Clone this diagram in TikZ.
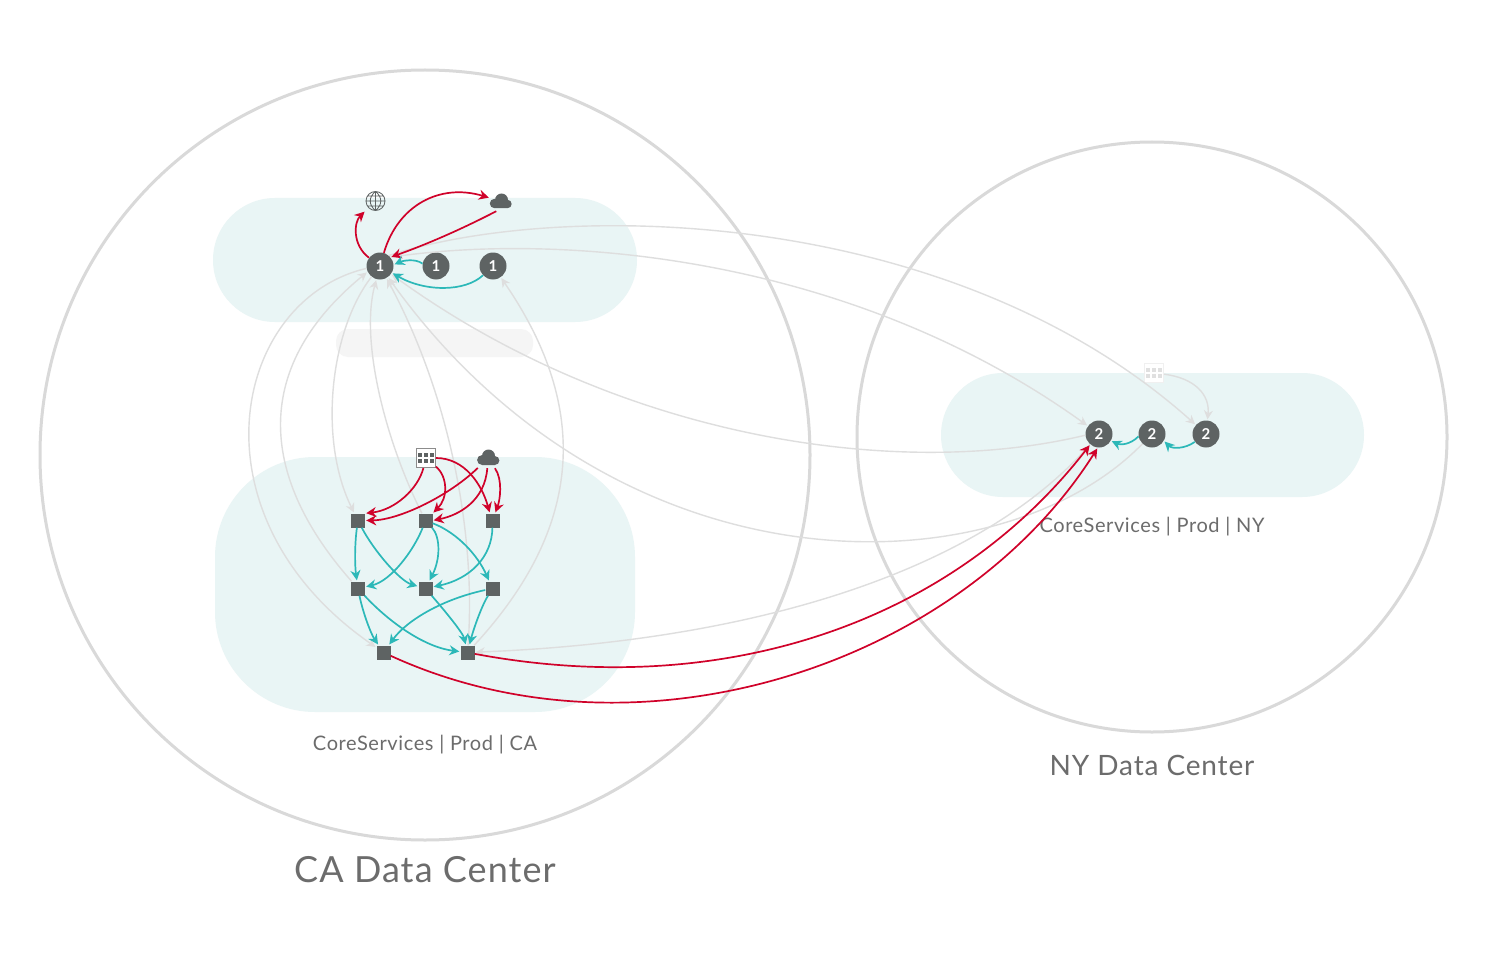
\documentclass[tikz,border=0pt]{standalone}
\usepackage{fontspec}
\setmainfont{Lato}[LetterSpace=3]
\usetikzlibrary{arrows.meta}
\definecolor{pillc}{RGB}{233,245,245}
\definecolor{ringc}{RGB}{217,217,217}
\definecolor{faintc}{RGB}{222,222,222}
\definecolor{nodec}{RGB}{94,99,99}
\definecolor{redc}{RGB}{208,2,42}
\definecolor{tealc}{RGB}{44,184,184}
\definecolor{textc}{RGB}{108,108,108}

\begin{document}
\begin{tikzpicture}[
  x=1pt, y=-1pt,
  ring/.style={draw=ringc, line width=3pt, circle, inner sep=0pt},
  pill/.style={fill=pillc, rounded corners=62pt, inner sep=0pt},
  svc/.style={circle, fill=nodec, text=white, inner sep=0pt, minimum size=27pt,
              font=\bfseries\fontsize{15}{15}\selectfont},
  inst/.style={fill=nodec, inner sep=0pt, minimum size=14pt},
  icon/.style={inner sep=0pt, minimum size=20pt},
  rededge/.style={-{Stealth[length=10pt,width=10pt]}, draw=redc, line width=1.7pt, shorten >=1pt},
  tealedge/.style={-{Stealth[length=10pt,width=10pt]}, draw=tealc, line width=1.7pt, shorten >=1pt},
  greyedge/.style={-{Stealth[length=9pt,width=9pt]}, draw=faintc, line width=1.4pt, shorten >=1pt},
  lbl/.style={text=textc, inner sep=0pt},
]
\useasboundingbox (0,0) rectangle (1488,960);
\fill[white] (0,0) rectangle (1488,960);

% ---------- tiers ----------
\node[pill, minimum width=424pt, minimum height=124pt] (toppill) at (425,260) {};
\node[pill, minimum width=420pt, minimum height=255pt, rounded corners=100pt] (botpill) at (425,584.5) {};
\node[pill, minimum width=423pt, minimum height=124pt] (nypill) at (1152.5,435) {};
\node[pill, fill=black!4, minimum width=197pt, minimum height=28pt, rounded corners=12pt] (greybar) at (434.5,343) {};
\node[lbl, font=\fontsize{20}{20}\selectfont] (botlbl) at (425,745) {CoreServices | Prod | CA};
\node[lbl, font=\fontsize{20}{20}\selectfont] (nypilllbl) at (1152,527) {CoreServices | Prod | NY};

% ---------- data centers ----------
\node[ring, minimum size=770pt] (caring) at (425,455) {};
\node[ring, minimum size=590pt] (nyring) at (1152,437) {};
\node[lbl, font=\fontsize{36}{36}\selectfont] (calbl) at (425,870) {CA Data Center};
\node[lbl, font=\fontsize{28}{28}\selectfont] (nylbl) at (1152,765) {NY Data Center};

% ---------- services and instances ----------
\node[svc] (s1) at (380,266) {1};
\node[svc] (s2) at (436,266) {1};
\node[svc] (s3) at (493,266) {1};
\node[svc] (n1) at (1099,434) {2};
\node[svc] (n2) at (1152,434) {2};
\node[svc] (n3) at (1206,434) {2};
\node[inst] (a1) at (358,520.5) {};
\node[inst] (a2) at (425.5,520.5) {};
\node[inst] (a3) at (492.5,520.5) {};
\node[inst] (b1) at (358,588.5) {};
\node[inst] (b2) at (425.5,588.5) {};
\node[inst] (b3) at (492.5,588.5) {};
\node[inst] (c1) at (383.5,652.5) {};
\node[inst] (c2) at (467.5,652.5) {};

% ---------- icons ----------
\node[icon] (globe) at (375.5,201) {};
\draw[nodec, line width=.8pt] (375.5,201) circle (9.5pt) (366,201) -- (385,201)
  (367.3,196) -- (383.7,196) (367.3,206) -- (383.7,206) (375.5,191.5) -- (375.5,210.5)
  (375.5,191.5) .. controls (368.5,197) and (368.5,205) .. (375.5,210.5)
  (375.5,191.5) .. controls (382.5,197) and (382.5,205) .. (375.5,210.5);
\node[icon] (cloud) at (500,201) {};
\fill[nodec] (501.5,200) circle (6.5pt) (494.5,203.5) circle (4.7pt) (507.5,204) circle (4.2pt)
  (494.5,203.5) rectangle (507.5,208.2);
\node[icon] (cloudb) at (488,458) {};
\fill[nodec] (488.5,456) circle (6.5pt) (482,460) circle (4.9pt) (495,460.5) circle (4.4pt)
  (482,460) rectangle (495,465);
\node[draw=black!45, fill=white, line width=1pt, minimum size=19pt, inner sep=0pt] (grid) at (426,458) {};
\foreach \x in {-6,0,6} \foreach \y in {-3,3}
  \fill[nodec] (426+\x-2.2,458+\y-2) rectangle (426+\x+2.2,458+\y+2);
\node[draw=black!6, fill=white, line width=1pt, minimum size=19pt, inner sep=0pt] (gridb) at (1154,373) {};
\foreach \x in {-6,0,6} \foreach \y in {-3,3}
  \fill[black!12] (1154+\x-2.2,373+\y-2) rectangle (1154+\x+2.2,373+\y+2);

% ---------- grey traffic ----------
\draw[greyedge] (s1.190) .. controls (232,300) and (187,516) .. (c1);
\draw[greyedge] (b1) .. controls (262,480) and (248,370) .. (s1.205);
\draw[greyedge] (s1) .. controls (330,330) and (318,440) .. (a1);
\draw[greyedge] (a2) .. controls (385,440) and (360,340) .. (s1);
\draw[greyedge] (c2) .. controls (476,540) and (452,400) .. (s1);
\draw[greyedge] (c2) .. controls (590,520) and (585,400) .. (s3);
\draw[greyedge] (s1.40) .. controls (560,232) and (850,255) .. (n1);
\draw[greyedge] (s1.50) .. controls (560,200) and (950,205) .. (n3);
\draw[greyedge] (n1.185) .. controls (900,480) and (620,440) .. (s1);
\draw[greyedge] (n2) .. controls (1000,590) and (620,600) .. (s1);
\draw[greyedge] (n1) .. controls (990,560) and (780,640) .. (c2);
\draw[greyedge] (gridb) .. controls (1195,378) and (1210,395) .. (n3);

% ---------- top tier ----------
\draw[rededge] (s1) .. controls (352,245) and (354,222) .. (globe);
\draw[rededge] (s1) .. controls (398,205) and (440,183) .. (cloud);
\draw[rededge] (cloud.250) .. controls (460,230) and (425,245) .. (s1.40);
\draw[tealedge] (s2.170) .. controls (415,258) and (402,261) .. (s1.5);
\draw[tealedge] (s3) .. controls (465,292) and (425,292) .. (s1);

% ---------- bottom tier ----------
\draw[rededge] (grid) .. controls (418,489) and (395,510) .. (a1.north east);
\draw[rededge] (grid) .. controls (448,477) and (448,498) .. (a2.north east);
\draw[rededge] (grid) .. controls (465,458) and (482,485) .. (a3.110);
\draw[rededge] (cloudb) .. controls (450,495) and (400,520) .. (a1.east);
\draw[rededge] (cloudb) .. controls (485,500) and (460,515) .. (a2.east);
\draw[rededge] (cloudb) .. controls (503,480) and (500,500) .. (a3.70);
\draw[tealedge] (a1) .. controls (354.7,543) and (354.7,565) .. (b1);
\draw[tealedge] (a1) .. controls (374,551) and (400,581) .. (b2);
\draw[tealedge] (a2) .. controls (414,550) and (391,581) .. (b1);
\draw[tealedge] (a2) .. controls (440.5,537) and (440.5,559) .. (b2);
\draw[tealedge] (a2) .. controls (458,533) and (478,556) .. (b3);
\draw[tealedge] (a3) .. controls (492,557) and (470,579) .. (b2);
\draw[tealedge] (b1) .. controls (363,613) and (371,634) .. (c1);
\draw[tealedge] (b1) .. controls (387,620) and (423,647) .. (c2);
\draw[tealedge] (b2) .. controls (445,611) and (463,633) .. (c2);
\draw[tealedge] (b3) .. controls (443,599) and (407,620) .. (c1);
\draw[tealedge] (b3) .. controls (481,607) and (473,631) .. (c2);

% ---------- NY tier and cross data center ----------
\draw[tealedge] (n2.190) .. controls (1130,445) and (1120,445) .. (n1.330);
\draw[tealedge] (n3.215) .. controls (1185,449) and (1172,449) .. (n2.330);
\draw[rededge] (c2) .. controls (720,700) and (950,625) .. (n1.230);
\draw[rededge] (c1) .. controls (640,770) and (960,665) .. (n1.265);

\end{tikzpicture}
\end{document}
